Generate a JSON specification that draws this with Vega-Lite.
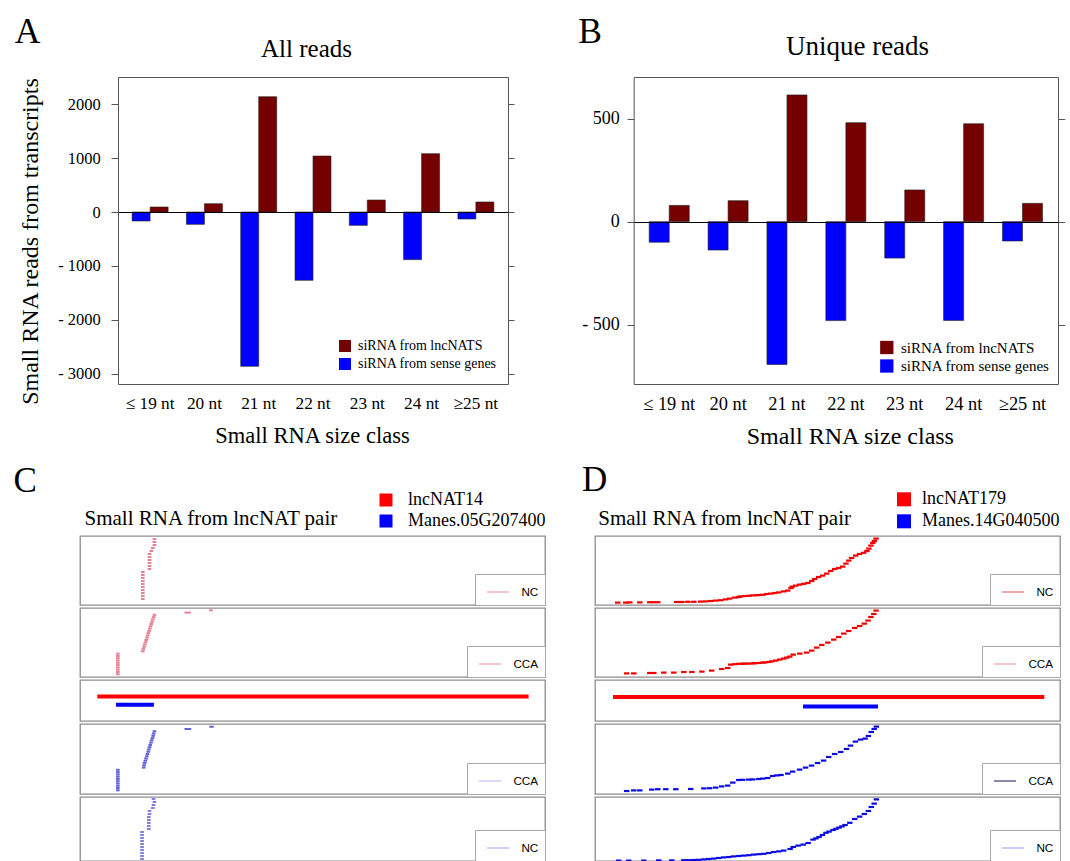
{
"$schema": "https://vega.github.io/schema/vega-lite/v6.json",
"padding": {"left": 12, "top": 14, "right": 0, "bottom": 0},
"background": "white",
"columns": 2,
"bounds": "flush",
"align": "each",
"spacing": {"row": 3, "column": 50},
"resolve": {"scale": {"x": "independent", "y": "independent", "color": "independent", "xOffset": "independent"}, "legend": {"color": "independent"}, "axis": {"x": "independent", "y": "independent"}},
"config": {
  "font": "Liberation Serif",
  "view": {"stroke": "#8c8c8c", "strokeWidth": 1.3},
  "axis": {"titleFontWeight": "normal", "labelColor": "#000", "titleColor": "#000", "labelFont": "Liberation Serif", "titleFont": "Liberation Serif"},
  "legend": {"labelColor": "#000", "labelFont": "Liberation Serif"}
},
"concat": [
{
  "width": 428, "height": 456,
  "view": {"stroke": null},
  "data": {"values": [
    {"size": "≤ 19 nt", "source": "siRNA from lncNATS", "reads": 93},
    {"size": "20 nt", "source": "siRNA from lncNATS", "reads": 155},
    {"size": "21 nt", "source": "siRNA from lncNATS", "reads": 2142},
    {"size": "22 nt", "source": "siRNA from lncNATS", "reads": 1040},
    {"size": "23 nt", "source": "siRNA from lncNATS", "reads": 223},
    {"size": "24 nt", "source": "siRNA from lncNATS", "reads": 1084},
    {"size": "≥25 nt", "source": "siRNA from lncNATS", "reads": 186},
    {"size": "≤ 19 nt", "source": "siRNA from sense genes", "reads": -167},
    {"size": "20 nt", "source": "siRNA from sense genes", "reads": -229},
    {"size": "21 nt", "source": "siRNA from sense genes", "reads": -2867},
    {"size": "22 nt", "source": "siRNA from sense genes", "reads": -1269},
    {"size": "23 nt", "source": "siRNA from sense genes", "reads": -248},
    {"size": "24 nt", "source": "siRNA from sense genes", "reads": -885},
    {"size": "≥25 nt", "source": "siRNA from sense genes", "reads": -130}
  ]},
  "resolve": {"axis": {"x": "independent", "y": "independent"}},
  "layer": [
    {
      "transform": [{"filter": "datum.source === 'siRNA from sense genes'"}],
      "mark": {"type": "bar", "stroke": "#222", "strokeWidth": 0.6},
      "encoding": {
        "x": {"field": "size", "type": "nominal", "scale": {"domain": ["≤ 19 nt","20 nt","21 nt","22 nt","23 nt","24 nt","≥25 nt"], "range": [38, 428], "paddingInner": 0.337, "paddingOuter": 0.26},
          "axis": {"orient": "bottom", "offset": -149, "ticks": false, "tickSize": 0, "labelPadding": 10.3, "labelFontSize": 17.3, "labelAngle": 0, "domainColor": "#555", "title": "Small RNA size class", "titleFontSize": 22.5, "titleX": 232, "titleY": 58, "titleAlign": "center", "titleBaseline": "alphabetic"}},
        "xOffset": {"field": "source", "type": "nominal", "scale": {"domain": ["siRNA from sense genes", "siRNA from lncNATS"], "paddingInner": 0, "paddingOuter": 0}},
        "y": {"field": "reads", "type": "quantitative", "scale": {"domain": [-3195, 2508], "range": [307, 0], "nice": false, "zero": false},
          "axis": {"orient": "left", "offset": -38, "values": [-3000, -2000, -1000, 0, 1000, 2000], "labelExpr": "datum.value < 0 ? '- ' + format(-datum.value, 'd') : format(datum.value, 'd')", "labelFontSize": 16.5, "labelPadding": 10.7, "tickSize": 7, "tickColor": "#555", "domainColor": "#555", "grid": true, "gridColor": "#000", "gridWidth": 1.2, "gridOpacity": {"condition": {"test": "datum.value === 0", "value": 1}, "value": 0}, "zindex": 1, "title": "Small RNA reads from transcripts", "titleFontSize": 24, "titleX": -81, "titleY": 164, "titleAngle": 270, "titleAlign": "center", "titleBaseline": "alphabetic"}},
        "color": {"field": "source", "type": "nominal", "scale": {"domain": ["siRNA from lncNATS", "siRNA from sense genes"], "range": ["#740000", "#0000ff"]},
          "legend": {"orient": "none", "legendX": 258, "legendY": 262, "title": null, "symbolType": "square", "symbolSize": 144, "symbolStrokeWidth": 0, "labelFontSize": 14, "labelOffset": 6, "rowPadding": 4, "padding": 0}}
      }
    },
    {
      "transform": [{"filter": "datum.source === 'siRNA from lncNATS'"}],
      "mark": {"type": "bar", "stroke": "#222", "strokeWidth": 0.6},
      "encoding": {
        "x": {"field": "size", "type": "nominal", "scale": {"domain": ["≤ 19 nt","20 nt","21 nt","22 nt","23 nt","24 nt","≥25 nt"], "range": [38, 428], "paddingInner": 0.337, "paddingOuter": 0.26},
          "axis": {"orient": "top", "labels": false, "ticks": false, "domainColor": "#555", "title": "All reads", "titleFontSize": 25, "titleX": 226, "titleY": -20.7, "titleAlign": "center", "titleBaseline": "alphabetic"}},
        "xOffset": {"field": "source", "type": "nominal", "scale": {"domain": ["siRNA from sense genes", "siRNA from lncNATS"], "paddingInner": 0, "paddingOuter": 0}},
        "y": {"field": "reads", "type": "quantitative", "scale": {"domain": [-3195, 2508], "range": [307, 0], "nice": false, "zero": false},
          "axis": {"orient": "right", "values": [-3000, -2000, -1000, 0, 1000, 2000], "labels": false, "tickSize": 6, "tickColor": "#555", "domainColor": "#555", "grid": false, "title": "A", "titleFontSize": 35.5, "titleX": -493.7, "titleY": -34.3, "titleAngle": 0, "titleAlign": "left", "titleBaseline": "alphabetic"}},
        "color": {"field": "source", "type": "nominal", "scale": {"domain": ["siRNA from lncNATS", "siRNA from sense genes"], "range": ["#740000", "#0000ff"]},
          "legend": {"orient": "none", "legendX": 258, "legendY": 262, "title": null, "symbolType": "square", "symbolSize": 144, "symbolStrokeWidth": 0, "labelFontSize": 14, "labelOffset": 6, "rowPadding": 4, "padding": 0}}
      }
    }
  ]
},
{
  "width": 463, "height": 456,
  "view": {"stroke": null},
  "data": {"values": [
    {"size": "≤ 19 nt", "source": "siRNA from lncNATS", "reads": 79},
    {"size": "20 nt", "source": "siRNA from lncNATS", "reads": 102},
    {"size": "21 nt", "source": "siRNA from lncNATS", "reads": 616},
    {"size": "22 nt", "source": "siRNA from lncNATS", "reads": 481},
    {"size": "23 nt", "source": "siRNA from lncNATS", "reads": 154},
    {"size": "24 nt", "source": "siRNA from lncNATS", "reads": 476},
    {"size": "≥25 nt", "source": "siRNA from lncNATS", "reads": 89},
    {"size": "≤ 19 nt", "source": "siRNA from sense genes", "reads": -100},
    {"size": "20 nt", "source": "siRNA from sense genes", "reads": -138},
    {"size": "21 nt", "source": "siRNA from sense genes", "reads": -694},
    {"size": "22 nt", "source": "siRNA from sense genes", "reads": -481},
    {"size": "23 nt", "source": "siRNA from sense genes", "reads": -177},
    {"size": "24 nt", "source": "siRNA from sense genes", "reads": -480},
    {"size": "≥25 nt", "source": "siRNA from sense genes", "reads": -94}
  ]},
  "resolve": {"axis": {"x": "independent", "y": "independent"}},
  "layer": [
    {
      "transform": [{"filter": "datum.source === 'siRNA from sense genes'"}],
      "mark": {"type": "bar", "stroke": "#222", "strokeWidth": 0.6},
      "encoding": {
        "x": {"field": "size", "type": "nominal", "scale": {"domain": ["≤ 19 nt","20 nt","21 nt","22 nt","23 nt","24 nt","≥25 nt"], "range": [38.7, 463], "paddingInner": 0.32, "paddingOuter": 0.263},
          "axis": {"orient": "bottom", "offset": -149, "ticks": false, "tickSize": 0, "labelPadding": 10, "labelFontSize": 18.4, "labelAngle": 0, "domainColor": "#555", "title": "Small RNA size class", "titleFontSize": 24, "titleX": 254.8, "titleY": 59, "titleAlign": "center", "titleBaseline": "alphabetic"}},
        "xOffset": {"field": "source", "type": "nominal", "scale": {"domain": ["siRNA from sense genes", "siRNA from lncNATS"], "paddingInner": 0, "paddingOuter": 0}},
        "y": {"field": "reads", "type": "quantitative", "scale": {"domain": [-789, 703], "range": [307, 0], "nice": false, "zero": false},
          "axis": {"orient": "left", "offset": -38.7, "values": [-500, 0, 500], "labelExpr": "datum.value < 0 ? '- ' + format(-datum.value, 'd') : format(datum.value, 'd')", "labelFontSize": 18, "labelPadding": 7.7, "tickSize": 6.7, "tickColor": "#555", "domainColor": "#555", "grid": true, "gridColor": "#000", "gridWidth": 1.2, "gridOpacity": {"condition": {"test": "datum.value === 0", "value": 1}, "value": 0}, "zindex": 1, "title": null}},
        "color": {"field": "source", "type": "nominal", "scale": {"domain": ["siRNA from lncNATS", "siRNA from sense genes"], "range": ["#740000", "#0000ff"]},
          "legend": {"orient": "none", "legendX": 284.3, "legendY": 263, "title": null, "symbolType": "square", "symbolSize": 177, "symbolStrokeWidth": 0, "labelFontSize": 15, "labelOffset": 6.7, "rowPadding": 2.5, "padding": 0}}
      }
    },
    {
      "transform": [{"filter": "datum.source === 'siRNA from lncNATS'"}],
      "mark": {"type": "bar", "stroke": "#222", "strokeWidth": 0.6},
      "encoding": {
        "x": {"field": "size", "type": "nominal", "scale": {"domain": ["≤ 19 nt","20 nt","21 nt","22 nt","23 nt","24 nt","≥25 nt"], "range": [38.7, 463], "paddingInner": 0.32, "paddingOuter": 0.263},
          "axis": {"orient": "top", "labels": false, "ticks": false, "domainColor": "#555", "title": "Unique reads", "titleFontSize": 27, "titleX": 262, "titleY": -23, "titleAlign": "center", "titleBaseline": "alphabetic"}},
        "xOffset": {"field": "source", "type": "nominal", "scale": {"domain": ["siRNA from sense genes", "siRNA from lncNATS"], "paddingInner": 0, "paddingOuter": 0}},
        "y": {"field": "reads", "type": "quantitative", "scale": {"domain": [-789, 703], "range": [307, 0], "nice": false, "zero": false},
          "axis": {"orient": "right", "values": [-500, 0, 500], "labels": false, "tickSize": 6.7, "tickColor": "#555", "domainColor": "#555", "grid": false, "title": "B", "titleFontSize": 35.5, "titleX": -480.3, "titleY": -34.3, "titleAngle": 0, "titleAlign": "left", "titleBaseline": "alphabetic"}},
        "color": {"field": "source", "type": "nominal", "scale": {"domain": ["siRNA from lncNATS", "siRNA from sense genes"], "range": ["#740000", "#0000ff"]},
          "legend": {"orient": "none", "legendX": 284.3, "legendY": 263, "title": null, "symbolType": "square", "symbolSize": 177, "symbolStrokeWidth": 0, "labelFontSize": 15, "labelOffset": 6.7, "rowPadding": 2.5, "padding": 0}}
      }
    }
  ]
},
{
  "width": 465, "height": 69,
  "layer": [
    {
      "data": {"values": [
        {"s":304,"e":324,"r":21},{"s":304,"e":324,"r":20},{"s":304,"e":324,"r":19},{"s":295,"e":315,"r":18},{"s":287,"e":307,"r":17},
        {"s":277,"e":297,"r":16},{"s":277,"e":297,"r":15},{"s":277,"e":297,"r":14},{"s":277,"e":297,"r":13},{"s":277,"e":297,"r":12},{"s":277,"e":297,"r":11},
        {"s":240,"e":260,"r":10},{"s":240,"e":260,"r":9},{"s":240,"e":260,"r":8},{"s":240,"e":260,"r":7},{"s":240,"e":260,"r":6},
        {"s":240,"e":260,"r":5},{"s":240,"e":260,"r":4},{"s":240,"e":260,"r":3},{"s":240,"e":260,"r":2},{"s":240,"e":260,"r":1}
      ]},
      "mark": {"type": "rule", "strokeWidth": 2, "color": "#e06078", "opacity": 0.8, "clip": true},
      "encoding": {
        "x": {"field": "s", "type": "quantitative", "scale": {"domain": [-95, 2460], "nice": false, "zero": false},
          "axis": {"orient": "top", "labels": false, "ticks": false, "domain": false, "grid": false, "title": "Small RNA from lncNAT pair", "titleFontSize": 21, "titleX": 4, "titleY": -11.7, "titleAlign": "left", "titleAngle": 0, "titleBaseline": "alphabetic"}},
        "x2": {"field": "e"},
        "y": {"field": "r", "type": "quantitative", "scale": {"domain": [-1, 22], "nice": false, "zero": false},
          "axis": {"orient": "left", "labels": false, "ticks": false, "domain": false, "grid": false, "title": "C", "titleFontSize": 35, "titleX": -67, "titleY": -45, "titleAlign": "left", "titleAngle": 0, "titleBaseline": "alphabetic"}}
      }
    },
    {
      "data": {"values": []},
      "mark": {"type": "rule"},
      "encoding": {
        "color": {"datum": "NC", "scale": {"range": ["#f0a0aa"]},
          "legend": {"orient": "bottom-right", "offset": 0, "title": null, "symbolType": "stroke", "symbolSize": 484, "symbolStrokeWidth": 1.2, "padding": 6, "symbolOffset": 5, "labelOffset": 11.4, "labelFont": "Liberation Sans", "labelFontSize": 11.7, "strokeColor": "#a8a8a8", "fillColor": "#ffffff"}}
      }
    }
  ]
},
{
  "width": 465, "height": 69,
  "layer": [
    {
      "data": {"values": [
        {"s":11,"e":41,"r":12},{"s":55,"e":85,"r":12},{"s":77,"e":107,"r":13},{"s":132,"e":162,"r":13},{"s":187,"e":217,"r":14},{"s":209,"e":239,"r":14},{"s":231,"e":261,"r":14},
        {"s":335,"e":365,"r":15},{"s":363,"e":393,"r":15},{"s":396,"e":426,"r":16},{"s":429,"e":459,"r":16},{"s":467,"e":497,"r":17},{"s":495,"e":525,"r":18},{"s":522,"e":552,"r":20},
        {"s":549,"e":579,"r":22},{"s":577,"e":607,"r":24},{"s":604,"e":634,"r":28},{"s":626,"e":656,"r":32},{"s":654,"e":684,"r":37},{"s":676,"e":706,"r":40},{"s":687,"e":717,"r":43},
        {"s":709,"e":739,"r":45},{"s":731,"e":761,"r":46},{"s":753,"e":783,"r":48},{"s":775,"e":805,"r":49},{"s":786,"e":816,"r":50},{"s":808,"e":838,"r":51},{"s":830,"e":860,"r":55},
        {"s":852,"e":882,"r":57},{"s":874,"e":904,"r":60},{"s":896,"e":926,"r":63},{"s":923,"e":953,"r":68},{"s":945,"e":975,"r":72},{"s":963,"e":993,"r":85},{"s":970,"e":1000,"r":92},
        {"s":989,"e":1019,"r":97},{"s":1011,"e":1041,"r":102},{"s":1033,"e":1063,"r":106},{"s":1055,"e":1085,"r":110},{"s":1077,"e":1107,"r":120},{"s":1093,"e":1123,"r":130},
        {"s":1115,"e":1145,"r":140},{"s":1137,"e":1167,"r":147},{"s":1159,"e":1189,"r":157},{"s":1181,"e":1211,"r":170},{"s":1203,"e":1233,"r":180},{"s":1225,"e":1255,"r":185},
        {"s":1247,"e":1277,"r":192},{"s":1265,"e":1295,"r":207},{"s":1280,"e":1310,"r":222},{"s":1296,"e":1326,"r":235},{"s":1318,"e":1348,"r":247},{"s":1340,"e":1370,"r":255},
        {"s":1362,"e":1392,"r":261},{"s":1380,"e":1410,"r":270},{"s":1391,"e":1421,"r":282},{"s":1402,"e":1432,"r":297},{"s":1412,"e":1442,"r":310},{"s":1421,"e":1451,"r":320},{"s":1430,"e":1460,"r":332}
      ]},
      "mark": {"type": "rule", "strokeWidth": 2.2, "color": "#f00000", "clip": true},
      "encoding": {
        "x": {"field": "s", "type": "quantitative", "scale": {"domain": [-99, 2456], "nice": false, "zero": false},
          "axis": {"orient": "top", "labels": false, "ticks": false, "domain": false, "grid": false, "title": "Small RNA from lncNAT pair", "titleFontSize": 21, "titleX": 2.7, "titleY": -11.7, "titleAlign": "left", "titleAngle": 0, "titleBaseline": "alphabetic"}},
        "x2": {"field": "e"},
        "y": {"field": "r", "type": "quantitative", "scale": {"domain": [0, 345], "nice": false, "zero": false},
          "axis": {"orient": "left", "labels": false, "ticks": false, "domain": false, "grid": false, "title": "D", "titleFontSize": 35, "titleX": -13.5, "titleY": -46, "titleAlign": "left", "titleAngle": 0, "titleBaseline": "alphabetic"}}
      }
    },
    {
      "data": {"values": []},
      "mark": {"type": "rule"},
      "encoding": {
        "color": {"datum": "NC", "scale": {"range": ["#e07078"]},
          "legend": {"orient": "bottom-right", "offset": 0, "title": null, "symbolType": "stroke", "symbolSize": 484, "symbolStrokeWidth": 1.2, "padding": 6, "symbolOffset": 5, "labelOffset": 11.4, "labelFont": "Liberation Sans", "labelFontSize": 11.7, "strokeColor": "#a8a8a8", "fillColor": "#ffffff"}}
      }
    }
  ]
},
{
  "width": 465, "height": 69,
  "layer": [
    {
      "data": {"values": [
        {"s":103,"e":123,"r":1},{"s":103,"e":123,"r":2},{"s":103,"e":123,"r":3},{"s":103,"e":123,"r":4},{"s":103,"e":123,"r":5},
        {"s":103,"e":123,"r":6},{"s":103,"e":123,"r":7},{"s":103,"e":123,"r":8},{"s":103,"e":123,"r":9},{"s":103,"e":123,"r":10},
        {"s":240,"e":260,"r":11},{"s":243,"e":263,"r":12},{"s":247,"e":267,"r":13},{"s":251,"e":271,"r":14},{"s":255,"e":275,"r":15},{"s":259,"e":279,"r":16},
        {"s":263,"e":283,"r":17},{"s":267,"e":287,"r":18},{"s":271,"e":291,"r":19},{"s":275,"e":295,"r":20},{"s":279,"e":299,"r":21},{"s":283,"e":303,"r":22},
        {"s":287,"e":307,"r":23},{"s":291,"e":311,"r":24},{"s":295,"e":315,"r":25},{"s":300,"e":320,"r":26},{"s":304,"e":324,"r":27},
        {"s":479,"e":514,"r":28},{"s":615,"e":635,"r":29}
      ]},
      "mark": {"type": "rule", "strokeWidth": 2, "color": "#e06078", "opacity": 0.8, "clip": true},
      "encoding": {
        "x": {"field": "s", "type": "quantitative", "scale": {"domain": [-95, 2460], "nice": false, "zero": false}, "axis": null},
        "x2": {"field": "e"},
        "y": {"field": "r", "type": "quantitative", "scale": {"domain": [-0.2, 30], "nice": false, "zero": false}, "axis": null}
      }
    },
    {
      "data": {"values": []},
      "mark": {"type": "rule"},
      "encoding": {
        "color": {"datum": "CCA", "scale": {"range": ["#eca0aa"]},
          "legend": {"orient": "bottom-right", "offset": 0, "title": null, "symbolType": "stroke", "symbolSize": 484, "symbolStrokeWidth": 1.2, "padding": 6, "symbolOffset": 5, "labelOffset": 11.4, "labelFont": "Liberation Sans", "labelFontSize": 11.7, "strokeColor": "#a8a8a8", "fillColor": "#ffffff"}}
      }
    }
  ]
},
{
  "width": 465, "height": 69,
  "layer": [
    {
      "data": {"values": [
        {"s":60,"e":90,"r":18},{"s":99,"e":129,"r":18},{"s":187,"e":217,"r":20},{"s":209,"e":239,"r":20},{"s":264,"e":294,"r":22},{"s":319,"e":349,"r":22},
        {"s":374,"e":404,"r":25},{"s":418,"e":448,"r":25},{"s":473,"e":503,"r":27},{"s":527,"e":557,"r":32},{"s":582,"e":612,"r":40},{"s":615,"e":645,"r":45},
        {"s":632,"e":662,"r":62},{"s":654,"e":684,"r":64},{"s":676,"e":706,"r":66},{"s":698,"e":728,"r":66},{"s":709,"e":739,"r":67},{"s":731,"e":761,"r":67},
        {"s":753,"e":783,"r":68},{"s":764,"e":794,"r":69},{"s":786,"e":816,"r":70},{"s":808,"e":838,"r":72},{"s":819,"e":849,"r":73},{"s":841,"e":871,"r":75},
        {"s":857,"e":887,"r":78},{"s":879,"e":909,"r":82},{"s":901,"e":931,"r":87},{"s":923,"e":953,"r":92},{"s":940,"e":970,"r":97},{"s":956,"e":986,"r":102},
        {"s":975,"e":1005,"r":112},{"s":1011,"e":1041,"r":117},{"s":1049,"e":1079,"r":122},{"s":1077,"e":1107,"r":132},{"s":1104,"e":1134,"r":147},
        {"s":1132,"e":1162,"r":160},{"s":1165,"e":1195,"r":172},{"s":1198,"e":1228,"r":187},{"s":1225,"e":1255,"r":200},{"s":1253,"e":1283,"r":217},
        {"s":1280,"e":1310,"r":230},{"s":1313,"e":1343,"r":245},{"s":1340,"e":1370,"r":255},{"s":1366,"e":1396,"r":267},{"s":1386,"e":1416,"r":282},
        {"s":1402,"e":1432,"r":300},{"s":1418,"e":1448,"r":315},{"s":1430,"e":1460,"r":332}
      ]},
      "mark": {"type": "rule", "strokeWidth": 2.2, "color": "#f00000", "clip": true},
      "encoding": {
        "x": {"field": "s", "type": "quantitative", "scale": {"domain": [-99, 2456], "nice": false, "zero": false}, "axis": null},
        "x2": {"field": "e"},
        "y": {"field": "r", "type": "quantitative", "scale": {"domain": [0, 345], "nice": false, "zero": false}, "axis": null}
      }
    },
    {
      "data": {"values": []},
      "mark": {"type": "rule"},
      "encoding": {
        "color": {"datum": "CCA", "scale": {"range": ["#f0a0a0"]},
          "legend": {"orient": "bottom-right", "offset": 0, "title": null, "symbolType": "stroke", "symbolSize": 484, "symbolStrokeWidth": 1.2, "padding": 6, "symbolOffset": 5, "labelOffset": 11.4, "labelFont": "Liberation Sans", "labelFontSize": 11.7, "strokeColor": "#a8a8a8", "fillColor": "#ffffff"}}
      }
    }
  ]
},
{
  "width": 465, "height": 41,
  "data": {"values": [
    {"gene": "lncNAT14", "s": 0, "e": 2370, "lane": 1},
    {"gene": "Manes.05G207400", "s": 103, "e": 311, "lane": 2}
  ]},
  "mark": {"type": "bar", "orient": "horizontal", "size": 4},
  "encoding": {
    "x": {"field": "s", "type": "quantitative", "scale": {"domain": [-95, 2460], "nice": false, "zero": false}, "axis": null},
    "x2": {"field": "e"},
    "y": {"field": "lane", "type": "quantitative", "scale": {"domain": [-0.39, 3.34], "reverse": true, "nice": false, "zero": false}, "axis": null},
    "color": {"field": "gene", "type": "nominal", "scale": {"domain": ["lncNAT14", "Manes.05G207400"], "range": ["#ff0000", "#0000ff"]},
      "legend": {"orient": "none", "legendX": 297, "legendY": -189, "title": null, "symbolType": "square", "symbolSize": 169, "symbolStrokeWidth": 0, "labelFontSize": 18, "labelOffset": 13, "rowPadding": 3, "padding": 0}}
  }
},
{
  "width": 465, "height": 41,
  "data": {"values": [
    {"gene": "lncNAT179", "s": 0, "e": 2370, "lane": 1},
    {"gene": "Manes.14G040500", "s": 1044, "e": 1456, "lane": 2}
  ]},
  "mark": {"type": "bar", "orient": "horizontal", "size": 4},
  "encoding": {
    "x": {"field": "s", "type": "quantitative", "scale": {"domain": [-99, 2456], "nice": false, "zero": false}, "axis": null},
    "x2": {"field": "e"},
    "y": {"field": "lane", "type": "quantitative", "scale": {"domain": [-0.25, 3.0], "reverse": true, "nice": false, "zero": false}, "axis": null},
    "color": {"field": "gene", "type": "nominal", "scale": {"domain": ["lncNAT179", "Manes.14G040500"], "range": ["#ff0000", "#0000ff"]},
      "legend": {"orient": "none", "legendX": 300, "legendY": -189.7, "title": null, "symbolType": "square", "symbolSize": 196, "symbolStrokeWidth": 0, "labelFontSize": 18, "labelOffset": 9, "rowPadding": 4, "padding": 0}}
  }
},
{
  "width": 465, "height": 70,
  "layer": [
    {
      "data": {"values": [
        {"s":103,"e":123,"r":1},{"s":103,"e":123,"r":2},{"s":103,"e":123,"r":3},{"s":103,"e":123,"r":4},{"s":103,"e":123,"r":5},
        {"s":103,"e":123,"r":6},{"s":103,"e":123,"r":7},{"s":103,"e":123,"r":8},{"s":103,"e":123,"r":9},{"s":103,"e":123,"r":10},
        {"s":245,"e":265,"r":11},{"s":247,"e":267,"r":12},{"s":250,"e":270,"r":13},{"s":254,"e":274,"r":14},{"s":258,"e":278,"r":15},{"s":262,"e":282,"r":16},
        {"s":266,"e":286,"r":17},{"s":270,"e":290,"r":18},{"s":273,"e":293,"r":19},{"s":277,"e":297,"r":20},{"s":281,"e":301,"r":21},{"s":285,"e":305,"r":22},
        {"s":289,"e":309,"r":23},{"s":293,"e":313,"r":24},{"s":297,"e":317,"r":25},{"s":300,"e":320,"r":26},{"s":304,"e":324,"r":27},
        {"s":479,"e":516,"r":28},{"s":615,"e":640,"r":29}
      ]},
      "mark": {"type": "rule", "strokeWidth": 2, "color": "#3a3ad0", "opacity": 0.8, "clip": true},
      "encoding": {
        "x": {"field": "s", "type": "quantitative", "scale": {"domain": [-95, 2460], "nice": false, "zero": false}, "axis": null},
        "x2": {"field": "e"},
        "y": {"field": "r", "type": "quantitative", "scale": {"domain": [-0.63, 30.2], "nice": false, "zero": false}, "axis": null}
      }
    },
    {
      "data": {"values": []},
      "mark": {"type": "rule"},
      "encoding": {
        "color": {"datum": "CCA", "scale": {"range": ["#c4c0f0"]},
          "legend": {"orient": "bottom-right", "offset": 0, "title": null, "symbolType": "stroke", "symbolSize": 484, "symbolStrokeWidth": 1.2, "padding": 6, "symbolOffset": 5, "labelOffset": 11.4, "labelFont": "Liberation Sans", "labelFontSize": 11.7, "strokeColor": "#a8a8a8", "fillColor": "#ffffff"}}
      }
    }
  ]
},
{
  "width": 465, "height": 70,
  "layer": [
    {
      "data": {"values": [
        {"s":60,"e":90,"r":15},{"s":99,"e":129,"r":18},{"s":132,"e":162,"r":18},{"s":198,"e":228,"r":22},{"s":231,"e":261,"r":24},{"s":275,"e":305,"r":24},
        {"s":330,"e":360,"r":24},{"s":412,"e":442,"r":25},{"s":484,"e":514,"r":28},{"s":516,"e":546,"r":29},{"s":549,"e":579,"r":32},{"s":582,"e":612,"r":38},
        {"s":615,"e":645,"r":42},{"s":643,"e":673,"r":57},{"s":676,"e":706,"r":70},{"s":698,"e":728,"r":71},{"s":731,"e":761,"r":72},{"s":753,"e":783,"r":73},
        {"s":786,"e":816,"r":75},{"s":808,"e":838,"r":77},{"s":835,"e":865,"r":80},{"s":862,"e":892,"r":90},{"s":885,"e":915,"r":93},{"s":908,"e":938,"r":95},
        {"s":945,"e":975,"r":102},{"s":972,"e":1002,"r":112},{"s":1010,"e":1040,"r":122},{"s":1043,"e":1073,"r":132},{"s":1076,"e":1106,"r":142},
        {"s":1109,"e":1139,"r":155},{"s":1142,"e":1172,"r":167},{"s":1170,"e":1200,"r":185},{"s":1203,"e":1233,"r":200},{"s":1236,"e":1266,"r":210},
        {"s":1268,"e":1298,"r":225},{"s":1290,"e":1320,"r":242},{"s":1317,"e":1347,"r":262},{"s":1345,"e":1375,"r":272},{"s":1370,"e":1400,"r":277},
        {"s":1388,"e":1418,"r":290},{"s":1404,"e":1434,"r":310},{"s":1420,"e":1450,"r":325},{"s":1432,"e":1462,"r":337}
      ]},
      "mark": {"type": "rule", "strokeWidth": 2.2, "color": "#0a0ae6", "clip": true},
      "encoding": {
        "x": {"field": "s", "type": "quantitative", "scale": {"domain": [-99, 2456], "nice": false, "zero": false}, "axis": null},
        "x2": {"field": "e"},
        "y": {"field": "r", "type": "quantitative", "scale": {"domain": [0, 350], "nice": false, "zero": false}, "axis": null}
      }
    },
    {
      "data": {"values": []},
      "mark": {"type": "rule"},
      "encoding": {
        "color": {"datum": "CCA", "scale": {"range": ["#404070"]},
          "legend": {"orient": "bottom-right", "offset": 0, "title": null, "symbolType": "stroke", "symbolSize": 484, "symbolStrokeWidth": 1.2, "padding": 6, "symbolOffset": 5, "labelOffset": 11.4, "labelFont": "Liberation Sans", "labelFontSize": 11.7, "strokeColor": "#a8a8a8", "fillColor": "#ffffff"}}
      }
    }
  ]
},
{
  "width": 465, "height": 64,
  "layer": [
    {
      "data": {"values": [
        {"s":299,"e":319,"r":21},{"s":304,"e":324,"r":20},{"s":299,"e":319,"r":19},{"s":295,"e":315,"r":18},{"s":277,"e":297,"r":17},{"s":277,"e":297,"r":16},
        {"s":273,"e":293,"r":15},{"s":273,"e":293,"r":14},{"s":273,"e":293,"r":13},{"s":273,"e":293,"r":12},{"s":273,"e":293,"r":11},
        {"s":236,"e":256,"r":10},{"s":236,"e":256,"r":9},{"s":236,"e":256,"r":8},{"s":236,"e":256,"r":7},{"s":236,"e":256,"r":6},
        {"s":236,"e":256,"r":5},{"s":236,"e":256,"r":4},{"s":236,"e":256,"r":3},{"s":236,"e":256,"r":2},{"s":236,"e":256,"r":1}
      ]},
      "mark": {"type": "rule", "strokeWidth": 2, "color": "#4a4ad0", "opacity": 0.7, "clip": true},
      "encoding": {
        "x": {"field": "s", "type": "quantitative", "scale": {"domain": [-95, 2460], "nice": false, "zero": false}, "axis": null},
        "x2": {"field": "e"},
        "y": {"field": "r", "type": "quantitative", "scale": {"domain": [0.33, 21.67], "nice": false, "zero": false}, "axis": null}
      }
    },
    {
      "data": {"values": []},
      "mark": {"type": "rule"},
      "encoding": {
        "color": {"datum": "NC", "scale": {"range": ["#b0b0f0"]},
          "legend": {"orient": "bottom-right", "offset": 0, "title": null, "symbolType": "stroke", "symbolSize": 484, "symbolStrokeWidth": 1.2, "padding": 6, "symbolOffset": 5, "labelOffset": 11.4, "labelFont": "Liberation Sans", "labelFontSize": 11.7, "strokeColor": "#a8a8a8", "fillColor": "#ffffff"}}
      }
    }
  ]
},
{
  "width": 465, "height": 64,
  "layer": [
    {
      "data": {"values": [
        {"s":16,"e":46,"r":27},{"s":71,"e":101,"r":27},{"s":154,"e":184,"r":27},{"s":236,"e":266,"r":28},{"s":308,"e":338,"r":28},{"s":374,"e":404,"r":29},
        {"s":401,"e":431,"r":29},{"s":429,"e":459,"r":30},{"s":456,"e":486,"r":31},{"s":484,"e":514,"r":33},{"s":511,"e":541,"r":35},{"s":538,"e":568,"r":37},
        {"s":566,"e":596,"r":40},{"s":593,"e":623,"r":43},{"s":621,"e":651,"r":45},{"s":648,"e":678,"r":48},{"s":676,"e":706,"r":50},{"s":703,"e":733,"r":52},
        {"s":731,"e":761,"r":54},{"s":758,"e":788,"r":57},{"s":786,"e":816,"r":59},{"s":813,"e":843,"r":61},{"s":841,"e":871,"r":65},{"s":868,"e":898,"r":70},
        {"s":896,"e":926,"r":73},{"s":923,"e":953,"r":77},{"s":958,"e":988,"r":85},{"s":975,"e":1005,"r":95},{"s":1002,"e":1032,"r":102},{"s":1030,"e":1060,"r":107},
        {"s":1057,"e":1087,"r":115},{"s":1084,"e":1114,"r":132},{"s":1100,"e":1130,"r":138},{"s":1117,"e":1147,"r":145},{"s":1136,"e":1166,"r":155},
        {"s":1155,"e":1185,"r":166},{"s":1172,"e":1202,"r":172},{"s":1194,"e":1224,"r":180},{"s":1210,"e":1240,"r":186},{"s":1227,"e":1257,"r":192},
        {"s":1243,"e":1273,"r":198},{"s":1260,"e":1290,"r":205},{"s":1286,"e":1316,"r":216},{"s":1313,"e":1343,"r":235},{"s":1340,"e":1370,"r":247},
        {"s":1366,"e":1396,"r":260},{"s":1388,"e":1418,"r":275},{"s":1404,"e":1434,"r":295},{"s":1420,"e":1450,"r":312},{"s":1432,"e":1462,"r":333}
      ]},
      "mark": {"type": "rule", "strokeWidth": 2.2, "color": "#0a0ae6", "clip": true},
      "encoding": {
        "x": {"field": "s", "type": "quantitative", "scale": {"domain": [-99, 2456], "nice": false, "zero": false}, "axis": null},
        "x2": {"field": "e"},
        "y": {"field": "r", "type": "quantitative", "scale": {"domain": [25, 345], "nice": false, "zero": false}, "axis": null}
      }
    },
    {
      "data": {"values": []},
      "mark": {"type": "rule"},
      "encoding": {
        "color": {"datum": "NC", "scale": {"range": ["#a8a8e8"]},
          "legend": {"orient": "bottom-right", "offset": 0, "title": null, "symbolType": "stroke", "symbolSize": 484, "symbolStrokeWidth": 1.2, "padding": 6, "symbolOffset": 5, "labelOffset": 11.4, "labelFont": "Liberation Sans", "labelFontSize": 11.7, "strokeColor": "#a8a8a8", "fillColor": "#ffffff"}}
      }
    }
  ]
}
]
}
